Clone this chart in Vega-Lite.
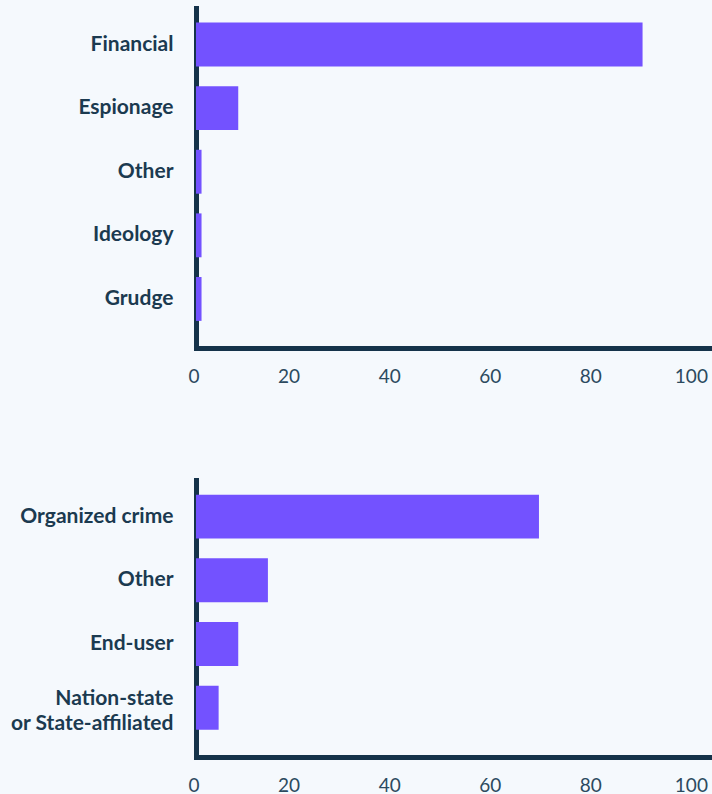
{
  "$schema": "https://vega.github.io/schema/vega-lite/v6.json",
  "background": "#f5f9fd",
  "padding": {"top": 8, "left": 10, "right": 0, "bottom": 0},
  "spacing": 94,
  "datasets": {
    "motive": [
      {"category": "Financial", "value": 88.8},
      {"category": "Espionage", "value": 8.4},
      {"category": "Other", "value": 1.1},
      {"category": "Ideology", "value": 1.1},
      {"category": "Grudge", "value": 1.1}
    ],
    "actor": [
      {"category": "Organized crime", "value": 68.2},
      {"category": "Other", "value": 14.3},
      {"category": "End-user", "value": 8.4},
      {"category": "Nation-state or State-affiliated", "value": 4.5}
    ]
  },
  "vconcat": [
    {
      "data": {"name": "motive"},
      "width": 523,
      "height": 340,
      "mark": {"type": "bar", "color": "#7352ff"},
      "encoding": {
        "y": {
          "field": "category", "type": "nominal", "sort": null,
          "scale": {"paddingInner": 0.31, "paddingOuter": 0.328, "align": 0.35},
          "axis": {"title": null}
        },
        "x": {
          "field": "value", "type": "quantitative",
          "scale": {"domain": [0, 104], "nice": false},
          "axis": {"title": null, "values": [0, 20, 40, 60, 80, 100]}
        }
      }
    },
    {
      "data": {"name": "actor"},
      "width": 523,
      "height": 277,
      "mark": {"type": "bar", "color": "#7352ff"},
      "encoding": {
        "y": {
          "field": "category", "type": "nominal", "sort": null,
          "scale": {"paddingInner": 0.31, "paddingOuter": 0.328, "align": 0.35},
          "axis": {
            "title": null,
            "labelExpr": "datum.label == 'Nation-state or State-affiliated' ? ['Nation-state', 'or State-affiliated'] : datum.label",
            "labelOffset": {"condition": {"test": "datum.value == 'Nation-state or State-affiliated'", "value": -8.5}, "value": 0}
          }
        },
        "x": {
          "field": "value", "type": "quantitative",
          "scale": {"domain": [0, 104], "nice": false},
          "axis": {"title": null, "values": [0, 20, 40, 60, 80, 100]}
        }
      }
    }
  ],
  "config": {
    "view": {"stroke": null},
    "axis": {
      "grid": false,
      "ticks": false,
      "domainColor": "#15334a",
      "domainWidth": 5,
      "domainCap": "square",
      "labelFont": "Lato",
      "zindex": 1
    },
    "axisY": {
      "labelFontSize": 21,
      "labelFontWeight": "bold",
      "labelColor": "#1b3a50",
      "labelPadding": 23,
      "labelLineHeight": 25
    },
    "axisX": {
      "labelFontSize": 19,
      "labelFontWeight": "normal",
      "labelColor": "#2c4a5f",
      "labelPadding": 19,
      "labelFlush": true,
      "labelOffset": -8,
      "labelBaseline": "top"
    }
  }
}
